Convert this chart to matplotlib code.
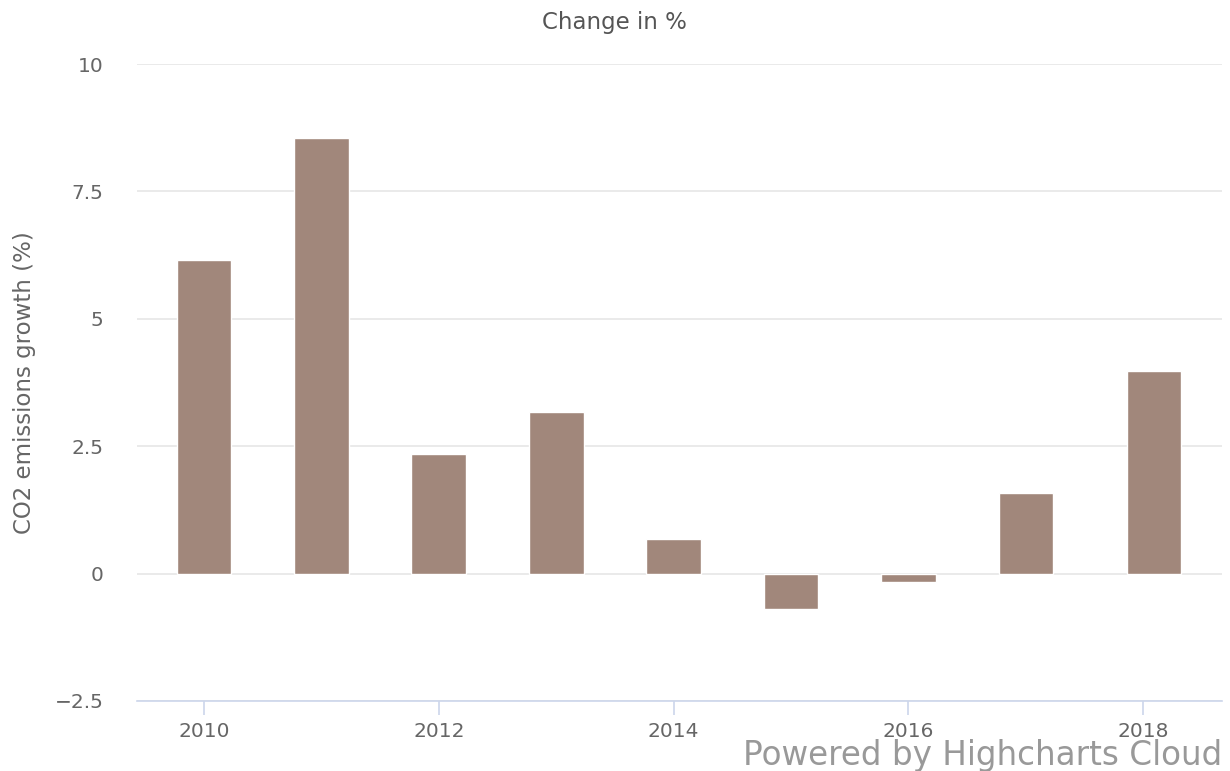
import matplotlib
matplotlib.use("Agg")
import matplotlib.pyplot as plt

years = [2010, 2011, 2012, 2013, 2014, 2015, 2016, 2017, 2018.09]
growth = [6.15, 8.55, 2.35, 3.18, 0.67, -0.69, -0.16, 1.59, 3.98]
yticks = [-2.5, 0, 2.5, 5, 7.5, 10]
ytick_labels = ["\u22122.5", "0", "2.5", "5", "7.5", "10"]
xticks = [2010, 2012, 2014, 2016, 2018]

W, H = 1230, 771
fig = plt.figure(figsize=(W / 100, H / 100), dpi=100)
plt.rcParams['font.family'] = ['DejaVu Sans']
ax = fig.add_axes([137 / W, (H - 701) / H, (1222 - 137) / W, (701 - 64) / H])

ax.bar(years, growth, width=0.465, color="#a1877b", edgecolor="white", linewidth=1.0, zorder=3)

ax.set_ylim(-2.5, 10)
ax.set_xlim(2009.43, 2018.67)
ax.set_yticks(yticks)
ax.set_yticklabels(ytick_labels)
ax.set_xticks(xticks)
ax.set_xticklabels([str(x) for x in xticks])

ax.grid(axis="y", color="#e6e6e6", linewidth=1.2, zorder=0)
for s in ["top", "right", "left"]:
    ax.spines[s].set_visible(False)
ax.spines["bottom"].set_color("#ccd6eb")
ax.spines["bottom"].set_linewidth(1.2)
ax.spines["bottom"].set_zorder(4)

ax.tick_params(axis="y", length=0, pad=24, labelsize=14.5, labelcolor="#666666")
ax.tick_params(axis="x", length=10, width=1.2, color="#ccd6eb", pad=5, labelsize=14.5, labelcolor="#666666")

ax.set_ylabel("CO2 emissions growth (%)", fontsize=16.5, color="#666666")
ax.yaxis.set_label_coords((25 - 137) / (1222 - 137), 0.5)
ax.yaxis.label.set_va("center")

fig.text(614 / W, 1 - 22 / H, "Change in %", ha="center", va="center", fontsize=16.5, color="#555555")
fig.text(1222 / W, 1 - 755 / H, "Powered by Highcharts Cloud", ha="right", va="center", fontsize=23.5, color="#999999")

fig.savefig("out.png", dpi=100, facecolor="white")
